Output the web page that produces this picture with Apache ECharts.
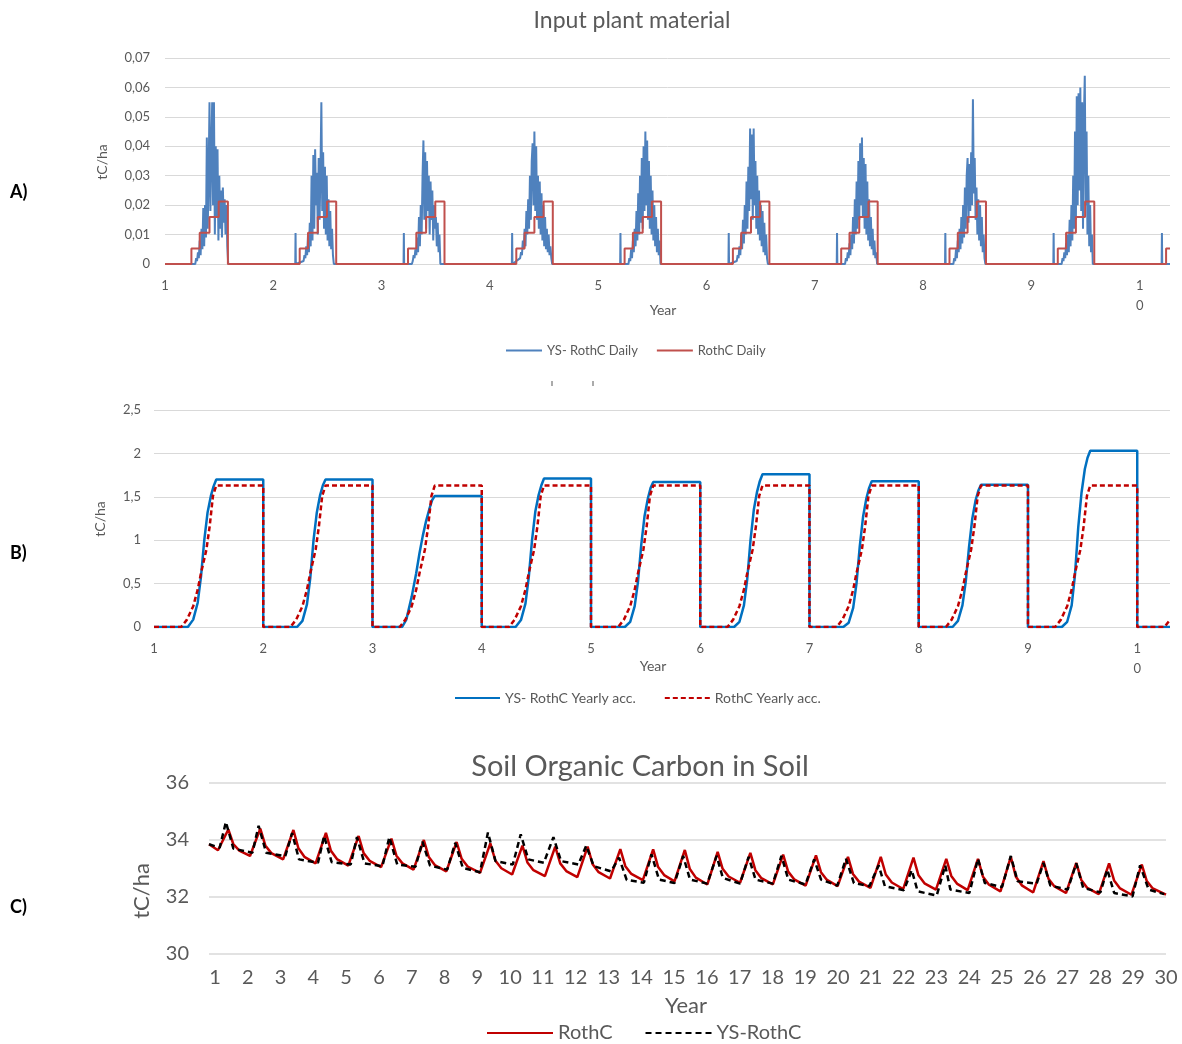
<!DOCTYPE html>
<html><head><meta charset="utf-8">
<script src="https://cdn.jsdelivr.net/npm/echarts@6/dist/echarts.min.js"></script>
<style>html,body{margin:0;padding:0;background:#fff}#c{width:1182px;height:1044px}</style>
</head><body><div id="c"></div>
<script>
// ================= Panel A : daily input plant material =================
const cycleYearsA = [1, 2, 3, 4, 5, 6, 7, 8, 9];
const clusterDaysA = [102,105,108,111,114,117,120,123,126,129,132,135,138,141,144,147,150,153,156,159,162,165,168,171,174,177,180,183,186,189,192,195,198,201,204,207,210];
const clusterEndDayA = 213;
const spikeDaysA = [74, 75, 76];
const spikeValsA = [0, 0.0105, 0];
const ysDailyY1 = [0,0.002,0.001,0.004,0.002,0.008,0.003,0.012,0.005,0.019,0.006,0.02,0.009,0.043,0.012,0.03,0.055,0.018,0.038,0.055,0.02,0.055,0.01,0.04,0.016,0.039,0.008,0.03,0.012,0.025,0.009,0.026,0.014,0.022,0.01,0.02,0.006];
const ysDailyY2 = [0.001,0.003,0.002,0.006,0.003,0.01,0.004,0.014,0.006,0.03,0.008,0.037,0.012,0.039,0.02,0.031,0.01,0.036,0.015,0.032,0.055,0.018,0.038,0.012,0.033,0.01,0.03,0.008,0.022,0.006,0.018,0.005,0.012,0.003,0,0,0];
const ysDailyY3 = [0,0.001,0.003,0.002,0.005,0.003,0.009,0.004,0.016,0.006,0.02,0.01,0.03,0.042,0.015,0.038,0.012,0.035,0.018,0.03,0.01,0.028,0.015,0.025,0.008,0.02,0.012,0.016,0.006,0.014,0.004,0.01,0,0,0,0,0];
const ysDailyY4 = [0.002,0.004,0.003,0.008,0.005,0.012,0.006,0.018,0.01,0.022,0.012,0.03,0.015,0.035,0.041,0.02,0.045,0.018,0.04,0.015,0.03,0.012,0.028,0.01,0.024,0.008,0.02,0.006,0.016,0.005,0.012,0.004,0.01,0.003,0.006,0.002,0];
const ysDailyY5 = [0,0.002,0.001,0.005,0.002,0.008,0.004,0.012,0.006,0.018,0.008,0.024,0.01,0.03,0.014,0.036,0.012,0.04,0.018,0.045,0.02,0.042,0.015,0.035,0.012,0.03,0.01,0.025,0.008,0.02,0.006,0.016,0.004,0.012,0.003,0.008,0];
const ysDailyY6 = [0.001,0.003,0.002,0.006,0.003,0.01,0.005,0.015,0.007,0.02,0.01,0.028,0.012,0.033,0.018,0.046,0.022,0.044,0.015,0.046,0.02,0.035,0.012,0.03,0.01,0.025,0.008,0.02,0.006,0.018,0.004,0.014,0.003,0.01,0.002,0,0];
const ysDailyY7 = [0,0.002,0.001,0.004,0.002,0.007,0.003,0.01,0.005,0.016,0.007,0.022,0.01,0.028,0.012,0.035,0.015,0.041,0.02,0.043,0.016,0.036,0.012,0.034,0.01,0.028,0.008,0.022,0.006,0.016,0.005,0.012,0.003,0.008,0.002,0.004,0];
const ysDailyY8 = [0,0.002,0.001,0.005,0.002,0.008,0.004,0.012,0.005,0.016,0.007,0.02,0.009,0.026,0.012,0.03,0.036,0.014,0.034,0.018,0.038,0.02,0.056,0.024,0.036,0.015,0.026,0.01,0.022,0.008,0.02,0.006,0.016,0.004,0.01,0.002,0];
const ysDailyY9 = [0,0.002,0.001,0.004,0.002,0.007,0.003,0.01,0.004,0.015,0.006,0.02,0.008,0.03,0.012,0.045,0.015,0.057,0.02,0.058,0.025,0.06,0.018,0.055,0.012,0.05,0.064,0.02,0.045,0.01,0.03,0.006,0.02,0.004,0.01,0,0];
const ysDailyByYear = [ysDailyY1, ysDailyY2, ysDailyY3, ysDailyY4, ysDailyY5, ysDailyY6, ysDailyY7, ysDailyY8, ysDailyY9];
const rothDailyDays = [89, 117, 150, 181, 212];
const rothDailyLevels = [0.0053, 0.0106, 0.016, 0.0212, 0];
const xEndA = 10.28;

// ================= Panel B : yearly accumulated =================
const accYSDays = [99, 113, 131, 146, 157, 168, 179, 190, 199, 208];
const accYSY1 = [0,0,0.085,0.28,0.58,1.0,1.32,1.51,1.62,1.70];
const accYSY2 = [0,0,0.07,0.26,0.56,1.0,1.32,1.52,1.63,1.70];
const accYSY3 = [0,0.085,0.35,0.62,0.85,1.05,1.22,1.36,1.46,1.51];
const accYSY4 = [0,0,0.08,0.27,0.57,1.0,1.33,1.52,1.63,1.71];
const accYSY5 = [0,0,0.06,0.24,0.52,0.95,1.28,1.48,1.60,1.67];
const accYSY6 = [0,0,0.06,0.25,0.55,1.0,1.35,1.56,1.68,1.76];
const accYSY7 = [0,0,0.05,0.22,0.50,0.93,1.27,1.48,1.60,1.68];
const accYSY8 = [0,0,0.07,0.25,0.52,0.92,1.25,1.46,1.57,1.64];
const accYSY9 = [0,0,0.06,0.25,0.60,1.15,1.55,1.82,1.95,2.03];
const accYSByYear = [accYSY1, accYSY2, accYSY3, accYSY4, accYSY5, accYSY6, accYSY7, accYSY8, accYSY9];
const accRothDays = [91, 110, 131, 146, 157, 175, 186, 197, 208];
const accRothVals = [0, 0.085, 0.24, 0.43, 0.62, 0.89, 1.16, 1.51, 1.63];
const accRothY10Days = [91, 109];
const accRothY10Vals = [0, 0.08];
const xEndB = 10.3;

// ================= Panel C : soil organic carbon =================
const socYearTicks = [1,2,3,4,5,6,7,8,9,10,11,12,13,14,15,16,17,18,19,20,21,22,23,24,25,26,27,28,29,30];
const socRothC = [[0.817,33.85],[1.091,33.64],[1.406,34.37],[1.558,33.86],[1.741,33.63],[2.067,33.44],[2.381,34.40],[2.534,33.81],[2.717,33.54],[3.077,33.32],[3.391,34.35],[3.543,33.71],[3.726,33.41],[4.068,33.18],[4.382,34.25],[4.535,33.62],[4.718,33.33],[5.065,33.10],[5.379,34.14],[5.532,33.54],[5.715,33.27],[6.065,33.05],[6.380,34.05],[6.532,33.45],[6.715,33.18],[7.054,32.96],[7.368,34.00],[7.520,33.40],[7.703,33.12],[8.054,32.90],[8.368,33.93],[8.521,33.34],[8.704,33.07],[9.082,32.85],[9.396,33.88],[9.548,33.28],[9.731,33.01],[10.061,32.79],[10.375,33.80],[10.527,33.21],[10.710,32.94],[11.061,32.73],[11.375,33.77],[11.527,33.18],[11.711,32.91],[12.049,32.70],[12.363,33.77],[12.516,33.15],[12.699,32.87],[13.046,32.65],[13.360,33.68],[13.513,33.08],[13.696,32.81],[14.047,32.59],[14.361,33.67],[14.513,33.05],[14.696,32.77],[15.013,32.55],[15.327,33.65],[15.480,32.98],[15.663,32.68],[16.014,32.44],[16.328,33.58],[16.480,32.99],[16.663,32.72],[17.011,32.50],[17.325,33.55],[17.478,32.94],[17.661,32.66],[18.011,32.44],[18.325,33.49],[18.478,32.89],[18.661,32.62],[19.011,32.40],[19.326,33.46],[19.478,32.87],[19.661,32.60],[19.987,32.38],[20.302,33.41],[20.454,32.81],[20.637,32.54],[20.988,32.32],[21.302,33.41],[21.455,32.79],[21.638,32.51],[21.985,32.28],[22.299,33.38],[22.452,32.76],[22.635,32.48],[22.985,32.26],[23.300,33.34],[23.452,32.74],[23.635,32.46],[23.952,32.24],[24.266,33.34],[24.419,32.71],[24.602,32.43],[24.952,32.20],[25.267,33.41],[25.419,32.72],[25.602,32.41],[25.950,32.16],[26.264,33.26],[26.416,32.64],[26.599,32.37],[26.950,32.14],[27.264,33.20],[27.417,32.60],[27.600,32.32],[27.950,32.10],[28.264,33.18],[28.417,32.58],[28.600,32.30],[28.947,32.08],[29.262,33.14],[29.414,32.56],[29.597,32.30],[30.000,32.08]];
const socYSRothC = [[0.817,33.85],[1.143,33.73],[1.332,34.63],[1.561,33.70],[2.141,33.55],[2.330,34.50],[2.561,33.55],[3.141,33.43],[3.351,34.24],[3.562,33.32],[4.141,33.20],[4.327,34.14],[4.559,33.22],[5.138,33.14],[5.328,34.10],[5.559,33.18],[6.105,33.08],[6.316,34.10],[6.557,33.14],[7.115,33.06],[7.325,33.94],[7.557,33.10],[8.081,32.96],[8.325,33.90],[8.557,33.02],[9.082,32.87],[9.323,34.26],[9.554,33.26],[10.082,33.14],[10.323,34.20],[10.555,33.32],[11.027,33.20],[11.320,34.10],[11.552,33.26],[12.080,33.14],[12.320,33.80],[12.552,33.08],[13.077,32.90],[13.321,33.38],[13.553,32.60],[14.077,32.50],[14.309,33.50],[14.541,32.61],[15.013,32.49],[15.276,33.44],[15.486,32.61],[16.011,32.47],[16.297,33.44],[16.486,32.67],[17.011,32.47],[17.273,33.41],[17.484,32.61],[18.011,32.47],[18.273,33.44],[18.484,32.61],[19.008,32.44],[19.271,33.32],[19.481,32.61],[19.975,32.40],[20.241,33.34],[20.482,32.49],[20.954,32.38],[21.238,33.11],[21.427,32.38],[22.006,32.24],[22.247,32.94],[22.427,32.20],[23.007,32.05],[23.269,33.11],[23.424,32.26],[24.004,32.14],[24.266,33.34],[24.476,32.49],[25.001,32.35],[25.267,33.44],[25.477,32.55],[26.056,32.47],[26.264,33.20],[26.474,32.40],[27.002,32.26],[27.264,33.18],[27.475,32.32],[27.999,32.16],[28.210,32.96],[28.420,32.14],[28.978,32.02],[29.210,33.11],[29.472,32.26],[29.945,32.10]];

// ================= build series data =================
function buildDailyYS() {
  const pts = [[1, 0]];
  cycleYearsA.forEach((n, k) => {
    if (n > 1) spikeDaysA.forEach((d, i) => pts.push([n + d / 365, spikeValsA[i]]));
    clusterDaysA.forEach((d, i) => pts.push([n + d / 365, ysDailyByYear[k][i]]));
    pts.push([n + clusterEndDayA / 365, 0]);
  });
  spikeDaysA.forEach((d, i) => pts.push([10 + d / 365, spikeValsA[i]]));
  pts.push([xEndA, 0]);
  return pts;
}
function buildDailyRoth() {
  const pts = [[1, 0]];
  cycleYearsA.forEach(n => rothDailyDays.forEach((d, i) => pts.push([n + d / 365, rothDailyLevels[i]])));
  pts.push([10 + rothDailyDays[0] / 365, rothDailyLevels[0]]);
  pts.push([xEndA, rothDailyLevels[0]]);
  return pts;
}
function buildAccYS() {
  const pts = [[1, 0]];
  cycleYearsA.forEach((n, k) => {
    const vals = accYSByYear[k];
    accYSDays.forEach((d, i) => pts.push([n + d / 365, vals[i]]));
    pts.push([n + 1, vals[vals.length - 1]]);
    pts.push([n + 1, 0]);
  });
  pts.push([xEndB, 0]);
  return pts;
}
function buildAccRoth() {
  const pts = [[1, 0]];
  cycleYearsA.forEach(n => {
    accRothDays.forEach((d, i) => pts.push([n + d / 365, accRothVals[i]]));
    pts.push([n + 1, accRothVals[accRothVals.length - 1]]);
    pts.push([n + 1, 0]);
  });
  accRothY10Days.forEach((d, i) => pts.push([10 + d / 365, accRothY10Vals[i]]));
  return pts;
}

const F = 'Lato, "Open Sans", sans-serif';
const TXT = '#595959';
const GRID = '#D9D9D9';
const fmtComma = v => String(Math.round(v * 100) / 100).replace('.', ',');
const yearLabel = v => {
  if (Math.abs(v - Math.round(v)) > 1e-6) return '';
  const r = Math.round(v);
  return r === 10 ? '1\n0' : String(r);
};

function txt(text, x, y, size, opts) {
  opts = opts || {};
  return {
    type: 'text', x: x, y: y, rotation: opts.rot || 0, silent: true,
    style: {
      text: text, fill: opts.color || TXT, fontSize: size, fontFamily: F,
      fontWeight: opts.bold ? 'bold' : 'normal',
      align: opts.align || 'center', verticalAlign: 'middle',
      textAlign: opts.align || 'center', textVerticalAlign: 'middle'
    }
  };
}

const legendCommon = { selectedMode: false, itemStyle: { opacity: 0, borderWidth: 0 } };

const chart = echarts.init(document.getElementById('c'), null, { renderer: 'canvas' });
const option = {
  animation: false,
  backgroundColor: '#fff',
  textStyle: { fontFamily: F },
  grid: [
    { left: 165, right: 12, top: 58, bottom: 780, containLabel: false },
    { left: 154, right: 12, top: 410, bottom: 417, containLabel: false },
    { left: 209, right: 16, top: 783, bottom: 90, containLabel: false }
  ],
  xAxis: [
    { gridIndex: 0, type: 'value', min: 1, max: xEndA, interval: 1,
      axisLine: { show: false }, axisTick: { show: false }, splitLine: { show: false },
      axisLabel: { formatter: yearLabel, fontSize: 13, color: TXT, lineHeight: 20, margin: 12, fontFamily: F, showMaxLabel: false } },
    { gridIndex: 1, type: 'value', min: 1, max: xEndB, interval: 1,
      axisLine: { show: false }, axisTick: { show: false }, splitLine: { show: false },
      axisLabel: { formatter: yearLabel, fontSize: 13, color: TXT, lineHeight: 20, margin: 12, fontFamily: F, showMaxLabel: false } },
    { gridIndex: 2, type: 'value', min: 0.817, max: 30,
      axisLine: { show: false }, axisTick: { show: false }, splitLine: { show: false },
      axisLabel: { customValues: socYearTicks, formatter: v => String(Math.round(v)), fontSize: 20, color: TXT, margin: 14, fontFamily: F } }
  ],
  yAxis: [
    { gridIndex: 0, type: 'value', min: 0, max: 0.07, interval: 0.01,
      axisLine: { show: false }, axisTick: { show: false },
      splitLine: { lineStyle: { color: GRID, width: 1 } },
      axisLabel: { formatter: fmtComma, fontSize: 13, color: TXT, margin: 15, fontFamily: F } },
    { gridIndex: 1, type: 'value', min: 0, max: 2.5, interval: 0.5,
      axisLine: { show: false }, axisTick: { show: false },
      splitLine: { lineStyle: { color: GRID, width: 1 } },
      axisLabel: { formatter: fmtComma, fontSize: 13, color: TXT, margin: 13, fontFamily: F } },
    { gridIndex: 2, type: 'value', min: 30, max: 36, interval: 2,
      axisLine: { show: false }, axisTick: { show: false },
      splitLine: { lineStyle: { color: GRID, width: 1.5 } },
      axisLabel: { fontSize: 20, color: TXT, margin: 20, fontFamily: F } }
  ],
  legend: [
    Object.assign({ data: ['YS- RothC Daily', 'RothC Daily'], left: 500, top: 339, itemWidth: 36, itemHeight: 14, itemGap: 18,
      textStyle: { fontSize: 13, color: TXT, fontFamily: F } }, legendCommon),
    Object.assign({ data: ['YS- RothC Yearly acc.', 'RothC Yearly acc.'], left: 449, top: 686, itemWidth: 45, itemHeight: 14, itemGap: 28,
      textStyle: { fontSize: 14, color: TXT, fontFamily: F } }, legendCommon),
    Object.assign({ data: ['RothC', 'YS-RothC'], left: 481, top: 1018, itemWidth: 66, itemHeight: 16, itemGap: 32,
      textStyle: { fontSize: 20, color: TXT, fontFamily: F } }, legendCommon)
  ],
  series: [
    { name: 'YS- RothC Daily', type: 'line', xAxisIndex: 0, yAxisIndex: 0, data: buildDailyYS(),
      showSymbol: false, symbol: 'none', sampling: null, color: '#4F81BD',
      lineStyle: { color: '#4F81BD', width: 2 } },
    { name: 'RothC Daily', type: 'line', xAxisIndex: 0, yAxisIndex: 0, data: buildDailyRoth(), step: 'end',
      showSymbol: false, symbol: 'none', color: '#C0504D',
      lineStyle: { color: '#C0504D', width: 2 } },
    { name: 'YS- RothC Yearly acc.', type: 'line', xAxisIndex: 1, yAxisIndex: 1, data: buildAccYS(),
      showSymbol: false, symbol: 'none', color: '#0070C0',
      lineStyle: { color: '#0070C0', width: 2.5 } },
    { name: 'RothC Yearly acc.', type: 'line', xAxisIndex: 1, yAxisIndex: 1, data: buildAccRoth(),
      showSymbol: false, symbol: 'none', color: '#C00000',
      lineStyle: { color: '#C00000', width: 2.5, type: [5, 3] } },
    { name: 'RothC', type: 'line', xAxisIndex: 2, yAxisIndex: 2, data: socRothC,
      showSymbol: false, symbol: 'none', color: '#C00000',
      lineStyle: { color: '#C00000', width: 2.5 } },
    { name: 'YS-RothC', type: 'line', xAxisIndex: 2, yAxisIndex: 2, data: socYSRothC,
      showSymbol: false, symbol: 'none', color: '#000000',
      lineStyle: { color: '#000000', width: 2.5, type: [6, 4] } }
  ],
  graphic: { elements: [
    txt('Input plant material', 632, 21, 23),
    txt('A)', 10, 192, 18, { bold: true, color: '#000', align: 'left' }),
    txt('B)', 10, 553, 18, { bold: true, color: '#000', align: 'left' }),
    txt('C)', 10, 907, 18, { bold: true, color: '#000', align: 'left' }),
    txt('tC/ha', 102, 162, 14, { rot: Math.PI / 2 }),
    txt('tC/ha', 100, 519, 14, { rot: Math.PI / 2 }),
    txt('tC/ha', 142, 891, 22, { rot: Math.PI / 2 }),
    txt('Year', 663, 310, 14),
    txt('Year', 653, 666, 14),
    txt('Year', 686, 1006, 22),
    txt('Soil Organic Carbon in Soil', 640, 767, 29),
    { type: 'rect', shape: { x: 551.5, y: 381, width: 1, height: 5 }, style: { fill: '#595959' }, silent: true },
    { type: 'rect', shape: { x: 592.5, y: 381, width: 1, height: 5 }, style: { fill: '#595959' }, silent: true }
  ] }
};
chart.setOption(option);
</script>
</body></html>
